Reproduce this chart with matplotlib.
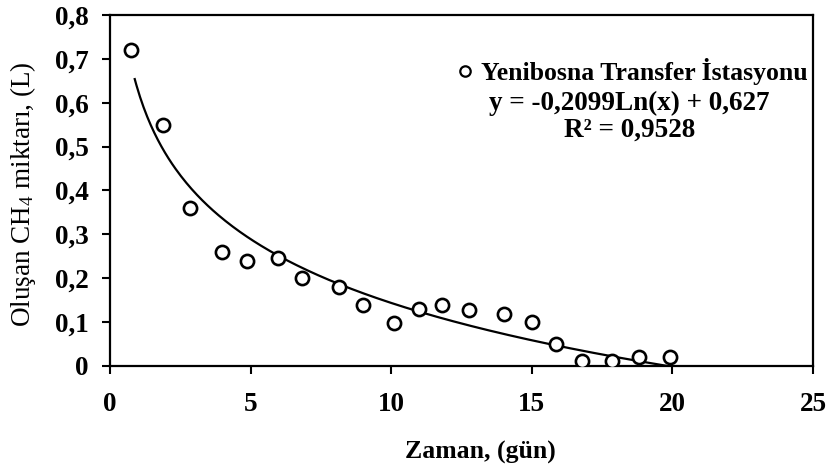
import matplotlib.pyplot as plt
import numpy as np
from matplotlib.ticker import FuncFormatter

plt.rcParams["font.family"] = ["Liberation Serif", "DejaVu Serif"]
plt.rcParams["mathtext.fontset"] = "custom"
plt.rcParams["mathtext.rm"] = "Liberation Serif"
plt.rcParams["mathtext.it"] = "Liberation Serif:italic"
plt.rcParams["mathtext.bf"] = "Liberation Serif:bold"

# measured points (day, CH4 litres)
days = [0.75, 1.9, 2.85, 3.98, 4.87, 5.97, 6.83, 8.14, 9.0, 10.1,
        11.0, 11.8, 12.77, 14.0, 15.0, 15.85, 16.8, 17.85, 18.8, 19.9]
ch4 = [0.72, 0.55, 0.36, 0.26, 0.24, 0.245, 0.20, 0.18, 0.14, 0.097,
       0.13, 0.14, 0.128, 0.118, 0.10, 0.05, 0.011, 0.011, 0.02, 0.02]

# log trendline given on the chart
coef_a = -0.2099
coef_b = 0.627
r_squared = 0.9528
fit_start, fit_end = 0.88, 19.8

series_label = "Yenibosna Transfer İstasyonu"

fig = plt.figure(figsize=(8.32, 4.75), dpi=100)
ax = fig.add_axes([0.1322, 0.2295, 0.8450, 0.7390])

xs = np.linspace(fit_start, fit_end, 300)
ax.plot(xs, coef_a * np.log(xs) + coef_b, color="black", lw=1.6, zorder=2)
ax.plot(days, ch4, "o", ms=9.5, mfc="white", mec="black", mew=1.9,
        label=series_label, zorder=3)

ax.set_xlim(0, 25)
ax.set_ylim(0, 0.8)
ax.set_xticks(np.arange(0, 26, 5))
ax.set_yticks(np.arange(0, 0.81, 0.1))
ax.yaxis.set_major_formatter(
    FuncFormatter(lambda v, _: "0" if abs(v) < 1e-9 else f"{v:.1f}".replace(".", ","))
)
ax.tick_params(direction="out", length=5.5, width=1.5, labelsize=19.5)
ax.tick_params(axis="y", pad=10)
ax.tick_params(axis="x", pad=13)
for lab in ax.get_xticklabels() + ax.get_yticklabels():
    lab.set_fontweight("bold")
for sp in ax.spines.values():
    sp.set_linewidth(1.6)

ax.set_xlabel("Zaman, (gün)", fontsize=18.5, fontweight="bold", va="center")
ax.xaxis.set_label_coords(0.527, -0.245)
ax.set_ylabel("Oluşan CH$_4$ miktarı, (L)", fontsize=19.5, va="center")
ax.yaxis.set_label_coords(-0.124, 0.49)

leg = ax.legend(loc="center", bbox_to_anchor=(0.745, 0.838), frameon=False,
                handlelength=0.45, handletextpad=0.4, borderpad=0,
                prop={"size": 18.5, "weight": "bold"})
for h in leg.legend_handles:
    h.set_markersize(7.5)
    h.set_markeredgewidth(1.6)

eq_text = f"y = {coef_a:.4f}Ln(x) + {coef_b:.3f}".replace(".", ",")
ax.text(0.739, 0.749, eq_text, transform=ax.transAxes, ha="center",
        va="center", fontsize=19.5, fontweight="bold")
ax.text(0.739, 0.672, f"R² = {r_squared:.4f}".replace(".", ","),
        transform=ax.transAxes, ha="center", va="center", fontsize=19.5,
        fontweight="bold")

fig.savefig("out.png", dpi=100)
